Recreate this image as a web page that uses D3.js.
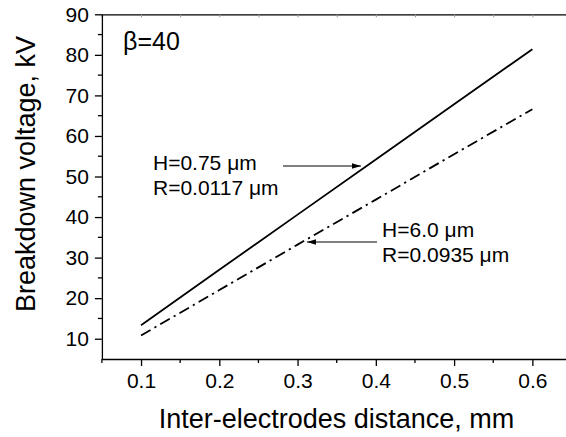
<!DOCTYPE html>
<html>
<head>
<meta charset="utf-8">
<script src="https://cdn.jsdelivr.net/npm/d3@7"></script>
<style>
    body { margin: 0; background: #fff; }
    svg { display: block; font-family: "Liberation Sans", Arial, sans-serif; }
    .curve { fill: none; stroke: #000; stroke-width: 1.8; }
    .axis path, .axis line { stroke: #000; stroke-width: 1.3; }
    .axis text { font-size: 21px; fill: #000; }
    .top-axis line { stroke: #999; stroke-width: 1; }
    .note { font-size: 21px; }
</style>
</head>
<body>
<div id="chart"></div>
<script>
// distance (mm) and breakdown voltage (kV)
const distance = [0.1, 0.2, 0.3, 0.4, 0.5, 0.6];
const voltageThin = [13.3, 27.0, 40.6, 54.2, 67.8, 81.4];    // H=0.75 um, solid
const voltageThick = [10.8, 22.0, 33.2, 44.3, 55.5, 66.6];   // H=6.0 um, dash-dot

const xMajor = [0.1, 0.2, 0.3, 0.4, 0.5, 0.6];
const xMinor = [0.05, 0.15, 0.25, 0.35, 0.45, 0.55];
const yMajor = [10, 20, 30, 40, 50, 60, 70, 80, 90];
const yMinor = [15, 25, 35, 45, 55, 65, 75, 85];

// annotation anchors, in data units
const noteThin = { lines: ['H=0.75 \u03bcm', 'R=0.0117 \u03bcm'], at: [0.1153, 51.6], from: [0.2814, 52.6], to: [0.381, 52.6] };
const noteThick = { lines: ['H=6.0 \u03bcm', 'R=0.0935 \u03bcm'], at: [0.408, 35.1], from: [0.4015, 33.85], to: [0.312, 33.85] };

const width = 566, height = 437;
const margin = { top: 14.3, left: 101.9, bottom: 78 };

let x = d3.scaleLinear().domain([0.05, 0.65]).range([margin.left, margin.left + 469.6]);
let y = d3.scaleLinear().domain([5, 90]).range([height - margin.bottom, margin.top]);

let svg = d3.select('#chart').append('svg')
    .attr('width', width)
    .attr('height', height);

svg.append('defs').append('marker')
    .attr('id', 'head')
    .attr('viewBox', '0 0 10 6')
    .attr('refX', 10).attr('refY', 3)
    .attr('markerWidth', 9).attr('markerHeight', 5.4)
    .attr('markerUnits', 'userSpaceOnUse')
    .attr('orient', 'auto')
    .append('path')
    .attr('d', 'M0,0L10,3L0,6Z');

// top frame line with small light ticks
svg.append('g')
    .attr('class', 'axis top-axis')
    .attr('transform', `translate(0,${y(90)})`)
    .call(d3.axisBottom(x).tickValues(xMajor.concat(xMinor).filter(d => d > 0.06)).tickSize(3).tickFormat(''))
    .select('.domain').attr('stroke', '#000');

// bottom axis
let xAxis = svg.append('g')
    .attr('class', 'axis')
    .attr('transform', `translate(0,${y(5)})`);
xAxis.call(d3.axisBottom(x).tickValues(xMajor).tickSize(7).tickSizeOuter(0).tickPadding(7).tickFormat(d3.format('.1f')));
xAxis.selectAll('.minor').data(xMinor).enter().append('line')
    .attr('class', 'minor')
    .attr('x1', d => x(d)).attr('x2', d => x(d))
    .attr('y1', 0).attr('y2', 4);

// left axis
let yAxis = svg.append('g')
    .attr('class', 'axis')
    .attr('transform', `translate(${x(0.05)},0)`);
yAxis.call(d3.axisLeft(y).tickValues(yMajor).tickSize(7).tickSizeOuter(0).tickPadding(6));
yAxis.selectAll('.minor').data(yMinor).enter().append('line')
    .attr('class', 'minor')
    .attr('x1', 0).attr('x2', -4)
    .attr('y1', d => y(d)).attr('y2', d => y(d));

// curves
let line = d3.line()
    .x(d => x(d[0]))
    .y(d => y(d[1]));

svg.append('path')
    .datum(d3.zip(distance, voltageThin))
    .attr('class', 'curve')
    .attr('d', line);

svg.append('path')
    .datum(d3.zip(distance, voltageThick))
    .attr('class', 'curve')
    .attr('stroke-dasharray', '11,4.5,2.2,4.5')
    .attr('d', line);

// notes with arrows
[noteThin, noteThick].forEach(n => {
    let t = svg.append('text')
        .attr('class', 'note')
        .attr('x', x(n.at[0]))
        .attr('y', y(n.at[1]));
    t.selectAll('tspan').data(n.lines).enter().append('tspan')
        .attr('x', x(n.at[0]))
        .attr('dy', (d, i) => i ? '1.19em' : 0)
        .text(d => d);

    svg.append('line')
        .attr('x1', x(n.from[0])).attr('y1', y(n.from[1]))
        .attr('x2', x(n.to[0])).attr('y2', y(n.to[1]))
        .attr('stroke', '#000')
        .attr('stroke-width', 1.1)
        .attr('marker-end', 'url(#head)');
});

svg.append('text')
    .attr('x', 123)
    .attr('y', 50)
    .attr('font-size', 25)
    .text('\u03b2=40');

// axis titles
svg.append('text')
    .attr('x', (156 + 517) / 2)
    .attr('y', 428)
    .attr('text-anchor', 'middle')
    .attr('font-size', 27)
    .text('Inter-electrodes distance, mm');

svg.append('text')
    .attr('transform', 'translate(35,174) rotate(-90)')
    .attr('text-anchor', 'middle')
    .attr('font-size', 27)
    .text('Breakdown voltage, kV');
</script>
</body>
</html>
